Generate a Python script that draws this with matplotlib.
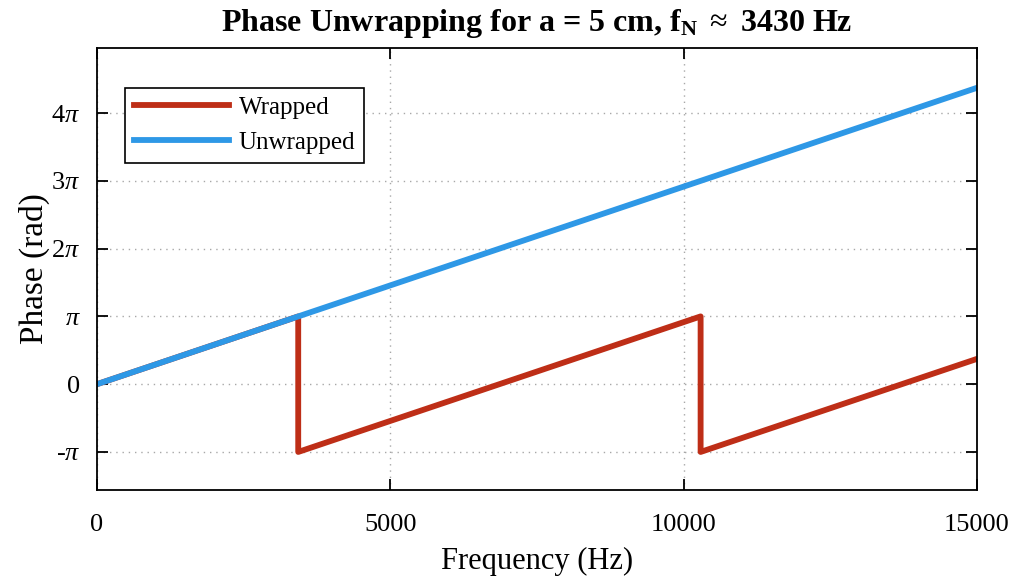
import numpy as np
import matplotlib
matplotlib.use("Agg")
import matplotlib.pyplot as plt

# data (phase in units of pi)
f_N = 3430
freq_wrapped = [0, 3430, 3430, 10290, 10290, 15000]
phase_wrapped = [0, 1.0, -1.0, 1.0, -1.0, 0.373]
freq_unwrapped = [0, 15000]
phase_unwrapped = [0, 4.373]

x_ticks = [0, 5000, 10000, 15000]
y_ticks = [-1, 0, 1, 2, 3, 4]
y_tick_labels = [r"-$\pi$", "0", r"$\pi$", r"2$\pi$", r"3$\pi$", r"4$\pi$"]

plt.rcParams.update({
    'font.family': 'Liberation Serif',
    'mathtext.fontset': 'custom',
    'mathtext.rm': 'Liberation Serif',
    'mathtext.it': 'Liberation Serif:italic',
    'mathtext.bf': 'Liberation Serif:bold',
    'axes.linewidth': 1.3,
})

fig = plt.figure(figsize=(10.16, 5.86), dpi=100)
ax = fig.add_axes([0.0955, 0.164, 0.866, 0.754])

red = '#BE2E17'
blue = '#2E98E6'
ax.plot(freq_wrapped, np.array(phase_wrapped) * np.pi, color=red, lw=4.2, label='Wrapped')
ax.plot(freq_unwrapped, np.array(phase_unwrapped) * np.pi, color=blue, lw=4.2, label='Unwrapped')

ax.set_xlim(0, 15000)
ax.set_ylim(-1.56 * np.pi, 4.96 * np.pi)
ax.set_xticks(x_ticks)
ax.set_yticks(np.array(y_ticks) * np.pi)
ax.set_yticklabels(y_tick_labels)

ax.grid(True, linestyle=(0, (1, 3.5)), color='#a8a8a8', linewidth=1.0)
ax.tick_params(direction='in', top=True, right=True, length=8, width=1.3,
               labelsize=19)
ax.tick_params(axis='x', pad=17)
ax.tick_params(axis='y', pad=12)

ax.set_xlabel('Frequency (Hz)', fontsize=22, labelpad=8)
ax.set_ylabel('Phase (rad)', fontsize=24, labelpad=1)
ax.set_title(r'Phase Unwrapping for a = 5 cm, f$_{\mathbf{N}}$ $\approx$ 3430 Hz',
             fontsize=23, fontweight='bold', pad=12)

leg = ax.legend(loc='upper left', bbox_to_anchor=(0.032, 0.91), fontsize=18,
                handlelength=3.8, fancybox=False, edgecolor='black',
                framealpha=1, borderpad=0.35, labelspacing=0.5, handletextpad=0.4,
                borderaxespad=0)
leg.get_frame().set_linewidth(1.2)

fig.savefig('out.png', dpi=100)
